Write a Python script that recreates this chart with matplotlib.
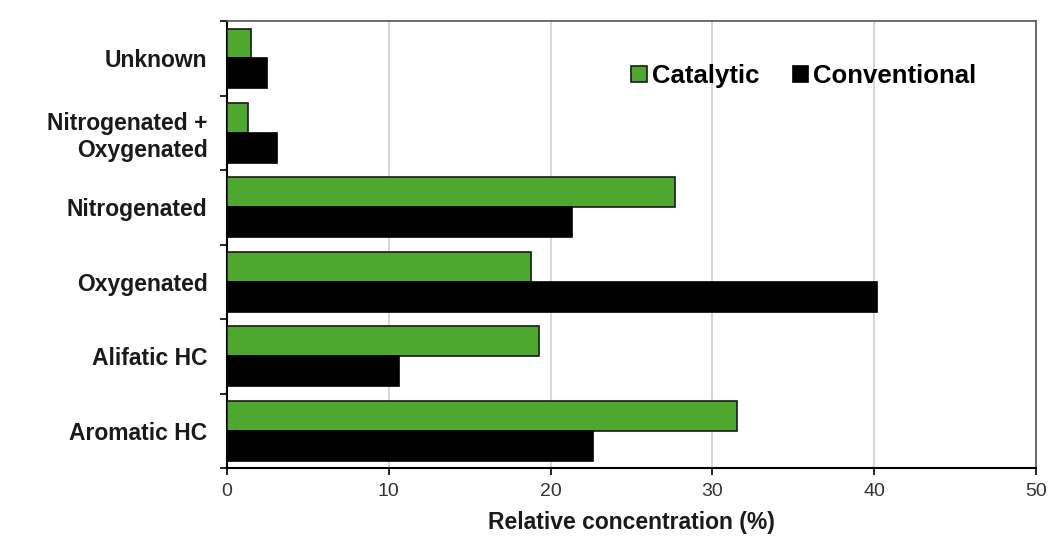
#!/usr/bin/env python3
""" horizontal grouped bars
"""
import numpy as np
import matplotlib.pyplot as plt

categories = ['Aromatic HC', 'Alifatic HC', 'Oxygenated', 'Nitrogenated',
              'Nitrogenated +\nOxygenated', 'Unknown']
catalytic = [31.5, 19.3, 18.8, 27.7, 1.3, 1.5]
conventional = [22.6, 10.6, 40.2, 21.3, 3.1, 2.5]
x_ticks = [0, 10, 20, 30, 40, 50]


def bars():
    """ catalytic vs conventional bars
    """
    plt.rcParams['font.family'] = ['Liberation Sans', 'DejaVu Sans']
    fig = plt.figure(figsize=(10.49, 5.4), dpi=100)
    ax = fig.add_axes([0.2164, 0.1333, 0.7712, 0.8277])

    y = np.arange(len(categories))
    h = 0.4
    ax.barh(y + h / 2, catalytic, h, color='#4ea72e', edgecolor='#1a1a1a',
            linewidth=1.2, label='Catalytic', zorder=3)
    ax.barh(y - h / 2, conventional, h, color='black', edgecolor='black',
            linewidth=1.2, label='Conventional', zorder=3)

    ax.set_xlim(0, 50)
    ax.set_ylim(-0.5, len(categories) - 0.5)
    ax.set_xticks(x_ticks)
    ax.set_xticklabels([str(t) for t in x_ticks], fontsize=14, color='#333333')

    ax.set_yticks(y)
    ax.set_yticklabels(categories, fontsize=16.5, fontweight='bold', color='#1a1a1a')
    ax.set_yticks(np.arange(-0.5, len(categories), 1), minor=True)
    ax.tick_params(axis='y', which='major', length=0, pad=14)
    ax.tick_params(axis='y', which='minor', length=5, width=1.2, direction='out')
    ax.tick_params(axis='x', length=5, width=1.2, direction='out', pad=6)

    ax.grid(axis='x', color='#d0d0d0', linewidth=1.2, zorder=0)
    for s in ['left', 'bottom']:
        ax.spines[s].set_linewidth(1.5)
        ax.spines[s].set_color('black')
    for s in ['top', 'right']:
        ax.spines[s].set_linewidth(1.2)
        ax.spines[s].set_color('#555555')

    ax.set_xlabel('Relative concentration (%)', fontsize=16.5,
                  fontweight='bold', labelpad=8, color='#1a1a1a')

    ax.legend(loc='upper right', bbox_to_anchor=(0.955, 0.955), ncol=2,
              frameon=False, handlelength=0.6, handleheight=0.6,
              handletextpad=0.2, columnspacing=1.3,
              prop={'weight': 'bold', 'size': 18.5})

    plt.savefig('out.png', dpi=100)


bars()
